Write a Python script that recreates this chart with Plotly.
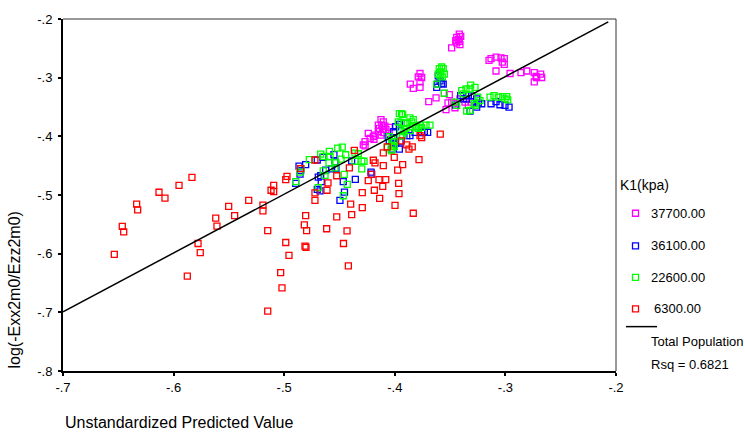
import plotly.graph_objects as go

# ---- data (x = Unstandardized Predicted Value, y = log(-Exx2m0/Ezz2m0)) ----
k37700_x = [-0.3417, -0.3404, -0.3440, -0.3426, -0.3449, -0.3417, -0.3440, -0.3411, -0.3486,
            -0.3148, -0.3130, -0.3085, -0.3040, -0.3010, -0.3028, -0.3010, -0.3085, -0.2958,
            -0.2859, -0.2807, -0.2739, -0.2723, -0.2681, -0.2672, -0.2717, -0.2739,
            -0.3772, -0.3788, -0.3757, -0.3772, -0.3772, -0.3833, -0.3860,
            -0.3627, -0.3693, -0.3552, -0.3507, -0.3519, -0.3486, -0.3456, -0.3537, -0.3456,
            -0.3411, -0.3305, -0.3335, -0.3365,
            -0.4125, -0.4104, -0.4149, -0.4118, -0.4089, -0.4140, -0.4109, -0.4080, -0.4050,
            -0.4149, -0.4104, -0.4125, -0.4050, -0.4240, -0.4179, -0.4194, -0.4224, -0.4188,
            -0.4269, -0.4285, -0.4269]
k37700_y = [-0.2257, -0.2297, -0.2314, -0.2353, -0.2370, -0.2382, -0.2408, -0.2437, -0.2492,
            -0.2706, -0.2677, -0.2650, -0.2661, -0.2677, -0.2734, -0.2773, -0.2886, -0.2929,
            -0.2913, -0.2886, -0.2913, -0.2980, -0.2941, -0.2997, -0.2997, -0.3071,
            -0.2929, -0.2987, -0.2997, -0.3071, -0.3165, -0.3182, -0.3109,
            -0.3345, -0.3407, -0.3269, -0.3289, -0.3429, -0.3417, -0.3445, -0.3546, -0.3513,
            -0.3361, -0.3417, -0.3474, -0.3417,
            -0.3714, -0.3753, -0.3810, -0.3810, -0.3827, -0.3866, -0.3882, -0.3882, -0.3849,
            -0.3921, -0.3938, -0.3978, -0.3950, -0.3950, -0.3978, -0.4005, -0.4034, -0.4050,
            -0.4089, -0.4146, -0.4163]

k36100_x = [-0.4866, -0.4851, -0.4806, -0.4896, -0.4857, -0.4701, -0.4649, -0.4625, -0.4670,
            -0.4665, -0.4692, -0.4550, -0.4541, -0.4532, -0.4466, -0.4455, -0.4496, -0.4390,
            -0.4357, -0.4676, -0.4701, -0.4215, -0.4209, -0.4010, -0.3992, -0.3959, -0.3863,
            -0.3892, -0.3817, -0.3757, -0.3703, -0.3733, -0.4014, -0.3992, -0.3959, -0.3953,
            -0.4028, -0.4050, -0.3591, -0.3576, -0.3612, -0.3621, -0.3562, -0.3607, -0.3381,
            -0.3335, -0.3350, -0.3305, -0.3260, -0.3245, -0.3214, -0.3260, -0.3320, -0.3404,
            -0.3130, -0.3085, -0.3049, -0.3004, -0.2967, -0.3447, -0.4571, -0.4059]
k36100_y = [-0.4509, -0.4583, -0.4482, -0.4802, -0.4644, -0.4403, -0.4358, -0.4576, -0.4672,
            -0.4773, -0.4694, -0.4311, -0.4437, -0.4550, -0.4773, -0.4950, -0.5092, -0.4420,
            -0.4734, -0.4929, -0.4903, -0.4610, -0.4644, -0.3921, -0.3837, -0.3798, -0.3988,
            -0.3988, -0.3933, -0.3938, -0.3933, -0.3921, -0.4034, -0.4118, -0.4218, -0.4096,
            -0.4218, -0.4072, -0.3054, -0.3097, -0.3109, -0.3165, -0.3109, -0.2970, -0.3361,
            -0.3306, -0.3361, -0.3306, -0.3361, -0.3434, -0.3445, -0.3501, -0.3568, -0.3306,
            -0.3445, -0.3407, -0.3462, -0.3474, -0.3501, -0.3474, -0.4555, -0.4005]

k22600_x = [-0.4896, -0.4848, -0.4857, -0.4773, -0.4670, -0.4647, -0.4647, -0.4631, -0.4692,
            -0.4586, -0.4595, -0.4516, -0.4475, -0.4444, -0.4486, -0.4457, -0.4430, -0.4466,
            -0.4541, -0.4360, -0.4330, -0.4299, -0.4299, -0.4532, -0.4592, -0.4019, -0.4034,
            -0.4005, -0.4360, -0.4278, -0.3959, -0.3938, -0.3929, -0.3968, -0.3944, -0.3863,
            -0.3833, -0.3847, -0.3802, -0.3772, -0.3788, -0.3757, -0.3718, -0.3682, -0.3899,
            -0.3863, -0.3917, -0.3947, -0.4050, -0.4028, -0.4005, -0.4068, -0.4028, -0.3947,
            -0.3929, -0.3576, -0.3562, -0.3598, -0.3585, -0.3607, -0.3552, -0.3591, -0.3571,
            -0.3621, -0.3552, -0.3395, -0.3356, -0.3314, -0.3275, -0.3320, -0.3381, -0.3250,
            -0.3230, -0.3281, -0.3269, -0.3350, -0.3320, -0.3456, -0.3440, -0.3139, -0.3103,
            -0.3064, -0.3024, -0.2988, -0.2979, -0.3004, -0.3838, -0.3887, -0.3917]
k22600_y = [-0.4773, -0.4550, -0.4610, -0.4398, -0.4303, -0.4341, -0.4588, -0.4667, -0.4874,
            -0.4341, -0.4454, -0.4202, -0.4185, -0.4314, -0.4387, -0.4650, -0.4818, -0.5013,
            -0.4538, -0.4425, -0.4297, -0.4425, -0.4555, -0.4454, -0.4257, -0.4173, -0.4230,
            -0.4173, -0.4286, -0.4425, -0.3613, -0.3613, -0.3630, -0.3753, -0.3765, -0.3686,
            -0.3714, -0.3753, -0.3837, -0.3810, -0.3866, -0.3849, -0.3810, -0.3810, -0.3866,
            -0.3904, -0.3921, -0.3894, -0.4005, -0.4050, -0.4089, -0.4190, -0.4247, -0.3995,
            -0.3978, -0.2818, -0.2845, -0.2845, -0.2903, -0.2941, -0.2941, -0.2970, -0.2987,
            -0.3109, -0.3266, -0.3222, -0.3193, -0.3126, -0.3165, -0.3193, -0.3277, -0.3333,
            -0.3390, -0.3445, -0.3474, -0.3568, -0.3558, -0.3417, -0.3474, -0.3333, -0.3306,
            -0.3333, -0.3323, -0.3323, -0.3378, -0.3361, -0.3837, -0.3770, -0.3782]

k6300_x = [-0.6536, -0.6464, -0.6451, -0.6334, -0.6325, -0.6132, -0.6078, -0.5951, -0.5834,
           -0.5876, -0.5779, -0.5759, -0.5619, -0.5608, -0.5502, -0.5448, -0.5321, -0.5192,
           -0.5192, -0.5149, -0.5149, -0.5119, -0.5095, -0.5095, -0.5032, -0.5020, -0.4986,
           -0.4957, -0.4986, -0.4975, -0.4851, -0.4806, -0.4818, -0.4797, -0.4812, -0.4803,
           -0.4616, -0.4432, -0.4464, -0.4420, -0.4722, -0.4722, -0.4613, -0.4604, -0.4525,
           -0.4525, -0.4399, -0.4390, -0.4411, -0.4366, -0.4722, -0.4294, -0.4294, -0.4240,
           -0.4185, -0.4137, -0.4213, -0.4194, -0.4179, -0.4143, -0.4082, -0.4109, -0.4104,
           -0.4104, -0.4068, -0.3965, -0.3962, -0.3974, -0.3998, -0.3929, -0.4005, -0.3833,
           -0.3781, -0.3892, -0.3842, -0.3872, -0.3757, -0.3772, -0.3589, -0.3941]
k6300_y = [-0.6012, -0.5534, -0.5630, -0.5155, -0.5255, -0.4953, -0.5054, -0.4835, -0.4701,
           -0.6382, -0.5827, -0.5983, -0.5395, -0.5529, -0.5193, -0.5350, -0.5092, -0.5171,
           -0.5272, -0.5608, -0.6980, -0.4919, -0.4835, -0.4941, -0.6324, -0.6583, -0.5810,
           -0.6029, -0.4739, -0.4684, -0.4550, -0.5350, -0.5508, -0.5608, -0.5871, -0.5891,
           -0.5575, -0.5613, -0.5827, -0.6207, -0.4963, -0.5092, -0.4919, -0.4795, -0.5373,
           -0.4672, -0.5155, -0.5333, -0.4538, -0.4240, -0.4403, -0.4958, -0.5215, -0.4756,
           -0.4919, -0.5059, -0.4647, -0.4408, -0.4454, -0.4739, -0.4739, -0.4852, -0.4499,
           -0.4281, -0.4180, -0.4802, -0.4975, -0.4576, -0.5176, -0.4482, -0.4358, -0.5311,
           -0.4398, -0.4146, -0.4180, -0.4218, -0.4022, -0.3988, -0.3961, -0.4076]

fit_x = [-0.700, -0.207]
fit_y = [-0.699, -0.205]

series_names = ["37700.00", "36100.00", "22600.00", "6300.00"]
series_colors = ["#ff00ff", "#0000ff", "#00ff00", "#ff0000"]
series_x = [k37700_x, k36100_x, k22600_x, k6300_x]
series_y = [k37700_y, k36100_y, k22600_y, k6300_y]

x_ticks = [-0.7, -0.6, -0.5, -0.4, -0.3, -0.2]
x_tick_text = ["-.7", "-.6", "-.5", "-.4", "-.3", "-.2"]
y_ticks = [-0.8, -0.7, -0.6, -0.5, -0.4, -0.3, -0.2]
y_tick_text = ["-.8", "-.7", "-.6", "-.5", "-.4", "-.3", "-.2"]

FONT = "Liberation Sans, Arial, sans-serif"

fig = go.Figure()
for name, col, xs, ys in zip(series_names, series_colors, series_x, series_y):
    fig.add_trace(go.Scatter(
        x=xs, y=ys, mode="markers", name=name, showlegend=False,
        marker=dict(symbol="square-open", size=6, color=col, line=dict(width=1.3, color=col)),
    ))
fig.add_trace(go.Scatter(x=fit_x, y=fit_y, mode="lines", showlegend=False,
                         line=dict(color="black", width=1.5)))

# frame geometry (pixels)
W, H = 745, 434
L, R, T, B = 63, 616, 14, 371
pw, ph = R - L, B - T


def px(xp):
    return (xp - L) / pw


def py(yp):
    return (B - yp) / ph


annotations = []
shapes = []

# top and right frame lines
shapes.append(dict(type="line", xref="paper", yref="paper", x0=0, x1=1, y0=1, y1=1,
                   line=dict(color="#333333", width=1)))
shapes.append(dict(type="line", xref="paper", yref="paper", x0=1, x1=1, y0=0, y1=1,
                   line=dict(color="#333333", width=1)))

# legend
annotations.append(dict(text="K1(kpa)", xref="paper", yref="paper", x=px(618), y=py(182),
                        xanchor="left", yanchor="middle", showarrow=False,
                        font=dict(family=FONT, size=14, color="black")))
legend_rows = [211, 244, 276, 308]
label_x = [649, 649, 649, 652]
for name, col, yr, lx in zip(series_names, series_colors, legend_rows, label_x):
    shapes.append(dict(type="rect", xref="paper", yref="paper", xsizemode="pixel", ysizemode="pixel",
                       xanchor=px(635.5), yanchor=py(yr), x0=-3, x1=3, y0=-3, y1=3,
                       line=dict(color=col, width=1.3), fillcolor="rgba(0,0,0,0)"))
    annotations.append(dict(text=name, xref="paper", yref="paper", x=px(lx), y=py(yr),
                            xanchor="left", yanchor="middle", showarrow=False,
                            font=dict(family=FONT, size=13, color="black")))
shapes.append(dict(type="line", xref="paper", yref="paper", x0=px(626), x1=px(657),
                   y0=py(326), y1=py(326), line=dict(color="black", width=1.5)))
annotations.append(dict(text="Total Population", xref="paper", yref="paper", x=px(649), y=py(341),
                        xanchor="left", yanchor="middle", showarrow=False,
                        font=dict(family=FONT, size=13, color="black")))
annotations.append(dict(text="Rsq = 0.6821", xref="paper", yref="paper", x=px(649), y=py(364),
                        xanchor="left", yanchor="middle", showarrow=False,
                        font=dict(family=FONT, size=13, color="black")))

# axis titles
annotations.append(dict(text="Unstandardized Predicted Value", xref="paper", yref="paper",
                        x=0, y=py(423), xanchor="left", yanchor="middle", showarrow=False,
                        font=dict(family=FONT, size=16, color="black")))
annotations.append(dict(text="log(-Exx2m0/Ezz2m0)", xref="paper", yref="paper",
                        x=px(14), y=0, xanchor="center", yanchor="bottom", textangle=-90,
                        showarrow=False, font=dict(family=FONT, size=16, color="black")))

axis_common = dict(showgrid=False, zeroline=False, showline=True, linecolor="black", linewidth=2,
                   ticks="outside", ticklen=3, tickwidth=2, tickcolor="black",
                   tickfont=dict(family=FONT, size=13, color="black"))

fig.update_layout(
    width=W, height=H,
    margin=dict(l=L, r=W - R, t=T, b=H - B, pad=0),
    paper_bgcolor="white", plot_bgcolor="white",
    xaxis=dict(range=[-0.7, -0.2], tickvals=x_ticks, ticktext=x_tick_text,
               ticklabelstandoff=0, **axis_common),
    yaxis=dict(range=[-0.8, -0.2], tickvals=y_ticks, ticktext=y_tick_text,
               ticklabelstandoff=3, **axis_common),
    annotations=annotations, shapes=shapes, showlegend=False,
)

fig.write_html("out.html", config={"displayModeBar": False},
               post_script="document.body.style.margin='0px';document.body.style.overflow='hidden';")
